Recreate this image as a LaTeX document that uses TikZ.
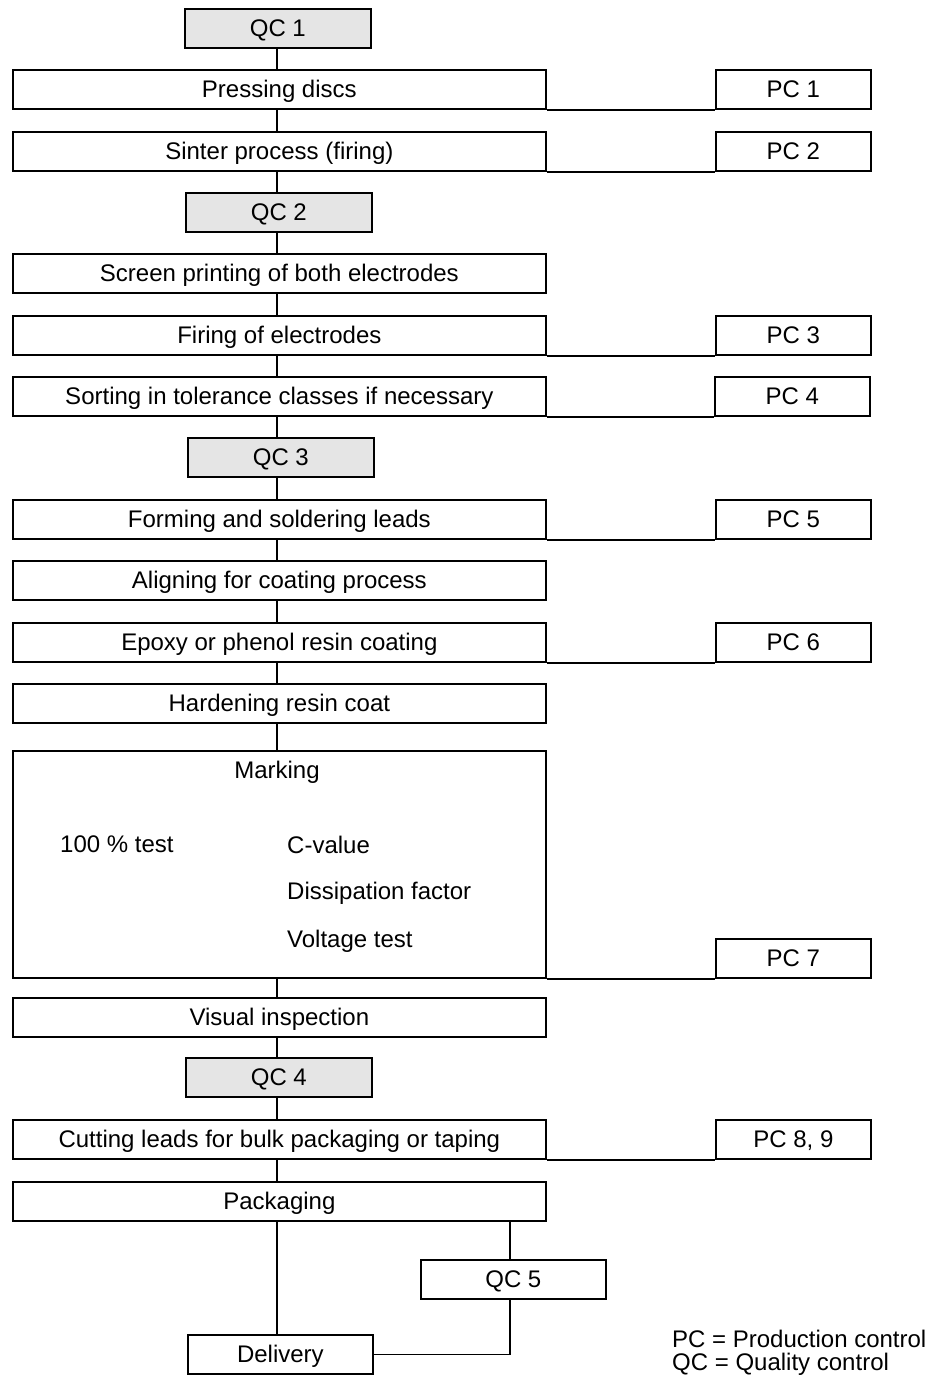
\documentclass[tikz,border=0pt]{standalone}
\usepackage{fontspec}
\setmainfont{Liberation Sans}
\begin{document}
\begin{tikzpicture}[x=1pt,y=-1pt,
  every node/.style={font=\fontsize{24}{28}\selectfont},
  box/.style={draw, line width=1.7pt, anchor=north west, inner sep=0pt, text height=17pt, text depth=0pt},
  proc/.style={box, minimum width=533pt, minimum height=39pt},
  pcbox/.style={box, minimum width=155pt, minimum height=39pt},
  qcbox/.style={box, fill=black!10, minimum width=186pt, minimum height=39pt},
  link/.style={line width=1.7pt}]
\useasboundingbox (0,0) rectangle (935,1376);
\node[qcbox] (qc1) at (184,8) {QC 1};
\node[proc] (p1) at (12,69) {Pressing discs};
\node[pcbox] (pc1) at (715,69) {PC 1};
\node[proc] (p2) at (12,131) {Sinter process (firing)};
\node[pcbox] (pc2) at (715,131) {PC 2};
\node[qcbox] (qc2) at (185,192) {QC 2};
\node[proc] (p3) at (12,253) {Screen printing of both electrodes};
\node[proc] (p4) at (12,315) {Firing of electrodes};
\node[pcbox] (pc3) at (715,315) {PC 3};
\node[proc] (p5) at (12,376) {Sorting in tolerance classes if necessary};
\node[pcbox] (pc4) at (714,376) {PC 4};
\node[qcbox] (qc3) at (187,437) {QC 3};
\node[proc] (p6) at (12,499) {Forming and soldering leads};
\node[pcbox] (pc5) at (715,499) {PC 5};
\node[proc] (p7) at (12,560) {Aligning for coating process};
\node[proc] (p8) at (12,622) {Epoxy or phenol resin coating};
\node[pcbox] (pc6) at (715,622) {PC 6};
\node[proc] (p9) at (12,683) {Hardening resin coat};
\node[proc, minimum height=227pt] (mark) at (12,750) {};
\node (marktitle) at (277,772) {Marking};
\node[anchor=west, inner sep=0pt] (test) at (60,844) {100 \% test};
\node[anchor=west, inner sep=0pt] (cval) at (287,845) {C-value};
\node[anchor=west, inner sep=0pt] (diss) at (287,893) {Dissipation factor};
\node[anchor=west, inner sep=0pt] (volt) at (287,941) {Voltage test};
\node[pcbox] (pc7) at (715,938) {PC 7};
\node[proc] (p10) at (12,997) {Visual inspection};
\node[qcbox] (qc4) at (185,1057) {QC 4};
\node[proc] (p11) at (12,1119) {Cutting leads for bulk packaging or taping};
\node[pcbox] (pc8) at (715,1119) {PC 8, 9};
\node[proc] (p12) at (12,1181) {Packaging};
\node[box, minimum width=185pt, minimum height=39pt] (qc5) at (420,1259) {QC 5};
\node[box, minimum width=185pt, minimum height=39pt] (del) at (187,1334) {Delivery};
\node[anchor=west, inner sep=0pt] (leg1) at (672,1339) {PC = Production control};
\node[anchor=west, inner sep=0pt] (leg2) at (672,1364) {QC = Quality control};
% vertical spine
\coordinate (sx) at (277,0);
\foreach \a/\b in {qc1/p1,p1/p2,p2/qc2,qc2/p3,p3/p4,p4/p5,p5/qc3,qc3/p6,p6/p7,p7/p8,p8/p9,p9/mark,mark/p10,p10/qc4,qc4/p11,p11/p12,p12/del}
  \draw[link] (sx |- \a.south) -- (sx |- \b.north);
% PC links
\foreach \a/\b in {p1/pc1,p2/pc2,p4/pc3,p5/pc4,p6/pc5,p8/pc6,mark/pc7,p11/pc8}
  \draw[link] (\a.south east) -- (\b.south west);
% QC5 branch
\coordinate (qx) at (510,0);
\draw[link] (qx |- p12.south) -- (qx |- qc5.north);
\draw[link] (qx |- qc5.south) |- (del.east);
\end{tikzpicture}
\end{document}
